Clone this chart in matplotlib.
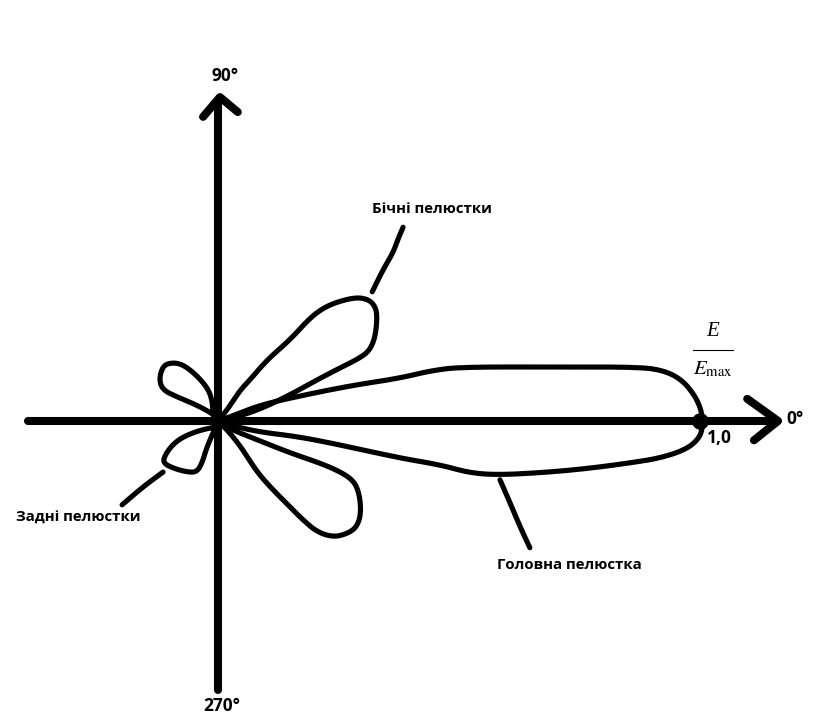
import matplotlib
matplotlib.use("Agg")
import matplotlib.pyplot as plt
import numpy as np

plt.rcParams['font.family'] = ['Open Sans', 'DejaVu Sans']

# Radiation pattern outlines in E/Emax units (x, y)
main_x = [0, 0.029, 0.087, 0.170, 0.274, 0.378, 0.440, 0.502, 0.689, 0.876, 0.927, 0.963, 0.990, 1.004,
          1.006, 0.996, 0.969, 0.917, 0.855, 0.772, 0.689, 0.585, 0.523, 0.461, 0.378, 0.274, 0.170, 0.087, 0.029, 0]
main_y = [0, 0.010, 0.033, 0.052, 0.073, 0.089, 0.104, 0.112, 0.112, 0.112, 0.104, 0.085, 0.052, 0.019,
          -0.015, -0.039, -0.060, -0.077, -0.087, -0.098, -0.106, -0.112, -0.108, -0.091, -0.077, -0.054, -0.033, -0.023, -0.010, 0]

side_up_x = [0, 0.019, 0.046, 0.066, 0.102, 0.149, 0.191, 0.218, 0.247, 0.288, 0.315, 0.328, 0.330, 0.326,
             0.315, 0.295, 0.253, 0.205, 0.149, 0.093, 0.039, 0]
side_up_y = [0, 0.023, 0.064, 0.085, 0.127, 0.168, 0.214, 0.234, 0.247, 0.257, 0.251, 0.234, 0.210, 0.174,
             0.147, 0.131, 0.110, 0.085, 0.054, 0.027, 0.008, 0]

side_dn_x = [0, 0.031, 0.066, 0.149, 0.205, 0.247, 0.280, 0.293, 0.297, 0.288, 0.268, 0.239, 0.205, 0.176,
             0.156, 0.114, 0.081, 0.052, 0.025, 0]
side_dn_y = [0, -0.019, -0.033, -0.066, -0.085, -0.102, -0.122, -0.149, -0.191, -0.220, -0.234, -0.241, -0.230, -0.205,
             -0.185, -0.143, -0.106, -0.060, -0.025, 0]

back_up_x = [0, -0.010, -0.012, -0.023, -0.052, -0.079, -0.104, -0.116, -0.122, -0.114, -0.085, -0.044, -0.006, 0]
back_up_y = [0, 0.008, 0.044, 0.071, 0.102, 0.120, 0.120, 0.110, 0.085, 0.064, 0.050, 0.033, 0.012, 0]

back_dn_x = [0, -0.002, -0.037, -0.073, -0.095, -0.110, -0.114, -0.093, -0.064, -0.044, -0.033, -0.023, -0.006, 0]
back_dn_y = [0, -0.012, -0.019, -0.033, -0.050, -0.071, -0.087, -0.098, -0.106, -0.106, -0.087, -0.054, -0.015, 0]

# Leader lines to labels
lead_side_x = [0.320, 0.342, 0.363, 0.373, 0.384]
lead_side_y = [0.268, 0.313, 0.349, 0.376, 0.402]
lead_back_x = [-0.114, -0.156, -0.199]
lead_back_y = [-0.106, -0.137, -0.174]
lead_main_x = [0.585, 0.606, 0.627, 0.647]
lead_main_y = [-0.122, -0.170, -0.220, -0.263]

labels = {
    "side": "Бічні пелюстки",
    "back": "Задні пелюстки",
    "main": "Головна пелюстка",
}
angle_labels = ["0°", "90°", "270°"]
max_value = 1.0
max_label = "1,0"


def smooth(xs, ys, n=3):
    """Chaikin corner cutting: only rounds the drawn outline's corners."""
    p = np.column_stack([xs, ys]).astype(float)
    for _ in range(n):
        q = 0.75 * p[:-1] + 0.25 * p[1:]
        r = 0.25 * p[:-1] + 0.75 * p[1:]
        mid = np.empty((2 * len(q), 2))
        mid[0::2] = q
        mid[1::2] = r
        p = np.vstack([p[:1], mid, p[-1:]])
    return p[:, 0], p[:, 1]


fig = plt.figure(figsize=(8.32, 7.27), dpi=100)
ax = fig.add_axes([0, 0, 1, 1])
ax.set_xlim(-0.4523, 1.2739)
ax.set_ylim(-0.6349, 0.8734)
ax.set_aspect('equal')
ax.axis('off')

axis_kw = dict(color='black', lw=5.8, solid_capstyle='round', solid_joinstyle='round')
# horizontal axis and arrow
ax.plot([-0.394, 1.158], [0, 0], **axis_kw)
ax.plot([1.098, 1.162, 1.112], [0.046, 0, -0.040], **axis_kw)
# vertical axis and arrow
ax.plot([0, 0], [-0.558, 0.662], **axis_kw)
ax.plot([-0.031, 0.004, 0.041], [0.631, 0.672, 0.641], **axis_kw)

lobe_kw = dict(color='black', lw=3.7, solid_capstyle='round', solid_joinstyle='round')
for xs, ys in [(main_x, main_y), (side_up_x, side_up_y), (side_dn_x, side_dn_y),
               (back_up_x, back_up_y), (back_dn_x, back_dn_y)]:
    sx, sy = smooth(xs, ys)
    ax.plot(sx, sy, **lobe_kw)

for xs, ys in [(lead_side_x, lead_side_y), (lead_back_x, lead_back_y), (lead_main_x, lead_main_y)]:
    sx, sy = smooth(xs, ys)
    ax.plot(sx, sy, **lobe_kw)

ax.plot([max_value], [0], 'o', color='black', markersize=11)

ak = dict(fontsize=12.5, fontweight='bold', ha='center', va='center')
tk = dict(fontsize=10.8, fontweight='bold', ha='center', va='center')
ax.text(1.197, 0.004, angle_labels[0], **ak)
ax.text(0.015, 0.716, angle_labels[1], **ak)
ax.text(0.008, -0.591, angle_labels[2], **ak)
ax.text(1.041, -0.035, max_label, **ak)
ax.text(0.444, 0.440, labels["side"], **tk)
ax.text(-0.290, -0.201, labels["back"], **tk)
ax.text(0.730, -0.299, labels["main"], **tk)

# E/Emax fraction
ax.text(1.027, 0.185, "E", fontsize=15, family='Liberation Serif', style='italic', ha='center', va='center')
ax.plot([0.985, 1.068], [0.147, 0.147], color='black', lw=0.8)
ax.text(1.027, 0.108, r"$E_{\mathrm{max}}$", fontsize=15, ha='center', va='center',
        math_fontfamily='stix')

fig.savefig("out.png", dpi=100)
